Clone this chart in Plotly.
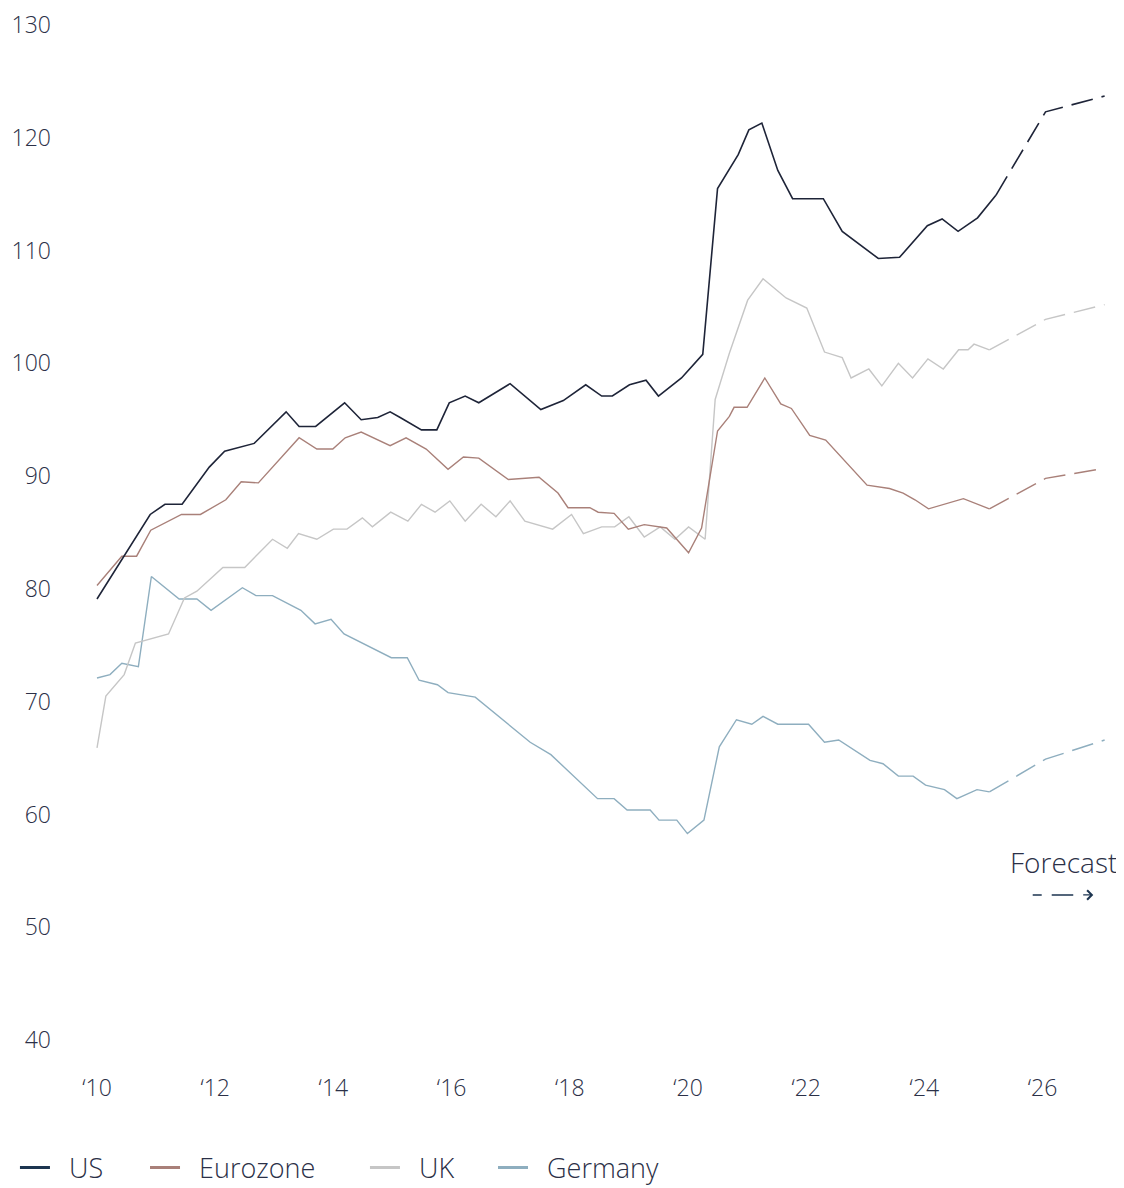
import plotly.graph_objects as go

# ---------------- data (year as decimal, index value) ----------------
us_x = [2010.0, 2010.90, 2011.15, 2011.44, 2011.90, 2012.16, 2012.66, 2013.20, 2013.42, 2013.70,
        2014.19, 2014.47, 2014.75, 2014.96, 2015.13, 2015.49, 2015.75, 2015.96, 2016.23, 2016.46,
        2016.99, 2017.51, 2017.89, 2018.27, 2018.54, 2018.72, 2019.01, 2019.29, 2019.50, 2019.89,
        2020.25, 2020.50, 2020.85, 2021.03, 2021.25, 2021.52, 2021.77, 2022.29, 2022.61, 2023.22,
        2023.58, 2024.05, 2024.30, 2024.57, 2024.90, 2025.21]
us_y = [79.1, 86.6, 87.5, 87.5, 90.8, 92.2, 92.9, 95.7, 94.4, 94.4,
        96.5, 95.0, 95.2, 95.7, 95.2, 94.1, 94.1, 96.5, 97.1, 96.5,
        98.2, 95.9, 96.7, 98.1, 97.1, 97.1, 98.1, 98.5, 97.1, 98.7,
        100.8, 115.5, 118.5, 120.7, 121.3, 117.1, 114.6, 114.6, 111.7, 109.3,
        109.4, 112.2, 112.8, 111.7, 112.9, 114.9]
us_fx = [2025.21, 2026.05, 2027.05]
us_fy = [114.9, 122.3, 123.7]

ez_x = [2010.0, 2010.42, 2010.67, 2010.91, 2011.43, 2011.75, 2012.18, 2012.44, 2012.73, 2013.42,
        2013.72, 2013.99, 2014.20, 2014.47, 2014.96, 2015.23, 2015.57, 2015.94, 2016.20, 2016.46,
        2016.96, 2017.48, 2017.80, 2017.97, 2018.34, 2018.48, 2018.75, 2018.99, 2019.26, 2019.64,
        2020.01, 2020.23, 2020.50, 2020.70, 2020.78, 2021.00, 2021.30, 2021.57, 2021.75, 2022.06,
        2022.33, 2023.03, 2023.41, 2023.64, 2023.84, 2024.07, 2024.66, 2025.10]
ez_y = [80.3, 82.9, 82.9, 85.2, 86.6, 86.6, 87.9, 89.5, 89.4, 93.4,
        92.4, 92.4, 93.4, 93.9, 92.7, 93.4, 92.4, 90.6, 91.7, 91.6,
        89.7, 89.9, 88.5, 87.2, 87.2, 86.8, 86.7, 85.3, 85.7, 85.4,
        83.2, 85.4, 94.0, 95.3, 96.1, 96.1, 98.7, 96.4, 96.0, 93.6,
        93.2, 89.2, 88.9, 88.5, 87.9, 87.1, 88.0, 87.1]
ez_fx = [2025.10, 2026.05, 2027.05]
ez_fy = [87.1, 89.8, 90.7]

uk_x = [2010.0, 2010.15, 2010.46, 2010.65, 2011.21, 2011.48, 2011.69, 2012.13, 2012.50, 2012.97,
        2013.22, 2013.41, 2013.72, 2014.00, 2014.23, 2014.49, 2014.66, 2014.97, 2015.26, 2015.49,
        2015.72, 2015.97, 2016.23, 2016.50, 2016.75, 2016.99, 2017.24, 2017.71, 2018.03, 2018.23,
        2018.54, 2018.76, 2019.00, 2019.26, 2019.53, 2019.78, 2020.01, 2020.29, 2020.46, 2020.70,
        2021.01, 2021.27, 2021.66, 2022.01, 2022.31, 2022.61, 2022.76, 2023.06, 2023.28, 2023.56,
        2023.80, 2024.06, 2024.32, 2024.58, 2024.74, 2024.84, 2025.10]
uk_y = [65.9, 70.5, 72.4, 75.2, 76.0, 79.2, 79.8, 81.9, 81.9, 84.4,
        83.6, 84.9, 84.4, 85.3, 85.3, 86.3, 85.5, 86.8, 86.0, 87.5,
        86.8, 87.8, 86.0, 87.5, 86.4, 87.8, 86.0, 85.3, 86.6, 84.9,
        85.5, 85.5, 86.4, 84.6, 85.5, 84.4, 85.5, 84.4, 96.8, 100.9,
        105.6, 107.5, 105.8, 104.9, 101.0, 100.5, 98.7, 99.5, 98.0, 100.0,
        98.7, 100.4, 99.5, 101.2, 101.2, 101.7, 101.2]
uk_fx = [2025.10, 2026.05, 2027.05]
uk_fy = [101.2, 103.9, 105.2]

de_x = [2010.0, 2010.22, 2010.42, 2010.70, 2010.92, 2011.39, 2011.69, 2011.93, 2012.46, 2012.69,
        2012.97, 2013.45, 2013.69, 2013.96, 2014.18, 2014.98, 2015.25, 2015.45, 2015.76, 2015.94,
        2016.40, 2017.33, 2017.68, 2018.47, 2018.75, 2018.97, 2019.36, 2019.51, 2019.81, 2019.99,
        2020.27, 2020.53, 2020.82, 2021.08, 2021.27, 2021.52, 2022.04, 2022.31, 2022.55, 2023.08,
        2023.30, 2023.56, 2023.81, 2024.02, 2024.34, 2024.55, 2024.89, 2025.10]
de_y = [72.1, 72.4, 73.4, 73.1, 81.1, 79.1, 79.1, 78.1, 80.1, 79.4,
        79.4, 78.1, 76.9, 77.3, 76.0, 73.9, 73.9, 71.9, 71.5, 70.8,
        70.4, 66.4, 65.3, 61.4, 61.4, 60.4, 60.4, 59.5, 59.5, 58.3,
        59.5, 66.0, 68.4, 68.0, 68.7, 68.0, 68.0, 66.4, 66.6, 64.8,
        64.5, 63.4, 63.4, 62.6, 62.2, 61.4, 62.2, 62.0]
de_fx = [2025.10, 2026.05, 2027.05]
de_fy = [62.0, 64.9, 66.6]

series_names = ["US", "Eurozone", "UK", "Germany"]
series_colors = ["#1e2438", "#a98079", "#c6c6c6", "#8eaebf"]
legend_colors = ["#1d3550", "#a98079", "#c6c6c6", "#8eaebf"]
series_widths = [1.6, 1.4, 1.4, 1.4]

y_ticks = [40, 50, 60, 70, 80, 90, 100, 110, 120, 130]
x_ticks = [2010, 2012, 2014, 2016, 2018, 2020, 2022, 2024, 2026]
x_ticktext = ["\u201810", "\u201812", "\u201814", "\u201816", "\u201818",
              "\u201820", "\u201822", "\u201824", "\u201826"]

FONT = "Open Sans"
WEIGHT = 300
TEXT_COLOR = "#2b3047"
ARROW_COLOR = "#1d3550"

hist = [(us_x, us_y), (ez_x, ez_y), (uk_x, uk_y), (de_x, de_y)]
fcst = [(us_fx, us_fy), (ez_fx, ez_fy), (uk_fx, uk_fy), (de_fx, de_fy)]

fig = go.Figure()
order = [3, 2, 1, 0]  # draw Germany first so US ends on top
for i in order:
    hx, hy = hist[i]
    fx, fy = fcst[i]
    fig.add_trace(go.Scatter(x=fx, y=fy, mode="lines", showlegend=False, hoverinfo="skip",
                             line=dict(color=series_colors[i], width=series_widths[i], dash="22px,9px")))
    fig.add_trace(go.Scatter(x=hx, y=hy, mode="lines", name=series_names[i], showlegend=False,
                             line=dict(color=series_colors[i], width=series_widths[i])))

# legend entries, each in its own legend box so spacing can match the original
legend_ids = ["legend", "legend2", "legend3", "legend4"]
legend_x = [-0.0425, 0.0802, 0.2877, 0.4085]
for i in range(4):
    fig.add_trace(go.Scatter(x=[None], y=[None], mode="lines",
                             name="\u00a0\u00a0" + series_names[i], legend=legend_ids[i],
                             line=dict(color=legend_colors[i], width=3)))

# Forecast label and dashed arrow
fig.add_annotation(x=2026.36, y=55.78, text="Forecast", showarrow=False,
                   font=dict(family=FONT, size=28, color=TEXT_COLOR, weight=WEIGHT),
                   xanchor="center", yanchor="middle")
fig.add_shape(type="line", x0=2025.833, x1=2026.519, y0=52.86, y1=52.86,
              line=dict(color=ARROW_COLOR, width=1.4, dash="9px,10px,22px,40px"))
fig.add_annotation(x=2026.858, y=52.86, ax=2026.662, ay=52.86, axref="x", ayref="y",
                   xref="x", yref="y", text="", showarrow=True,
                   arrowhead=4, arrowsize=1.4, arrowwidth=1.3, arrowcolor=ARROW_COLOR)

legend_common = dict(orientation="h", xanchor="left", y=-0.1001, yanchor="middle",
                     font=dict(family=FONT, size=27, color=TEXT_COLOR, weight=WEIGHT),
                     bgcolor="rgba(0,0,0,0)", borderwidth=0)
layout_legends = {}
for lid, lx in zip(legend_ids, legend_x):
    layout_legends[lid] = dict(legend_common, x=lx)

fig.update_layout(
    width=1116, height=1180,
    margin=dict(l=52, r=4, t=6, b=125, autoexpand=False),
    paper_bgcolor="white", plot_bgcolor="white",
    font=dict(family=FONT, color=TEXT_COLOR, size=23, weight=WEIGHT),
    xaxis=dict(range=[2009.374, 2027.31], tickvals=x_ticks, ticktext=x_ticktext,
               showgrid=False, zeroline=False, showline=False, ticks="",
               ticklabelstandoff=9, automargin=False, ticklabeloverflow="allow",
               tickfont=dict(family=FONT, size=23, color=TEXT_COLOR, weight=WEIGHT)),
    yaxis=dict(range=[37.961, 130.975], tickvals=y_ticks, showgrid=False, zeroline=False,
               showline=False, ticks="", ticklabelstandoff=8, automargin=False,
               ticklabeloverflow="allow",
               tickfont=dict(family=FONT, size=23, color=TEXT_COLOR, weight=WEIGHT)),
    showlegend=True,
    **layout_legends,
)

fig.write_html("out.html")
